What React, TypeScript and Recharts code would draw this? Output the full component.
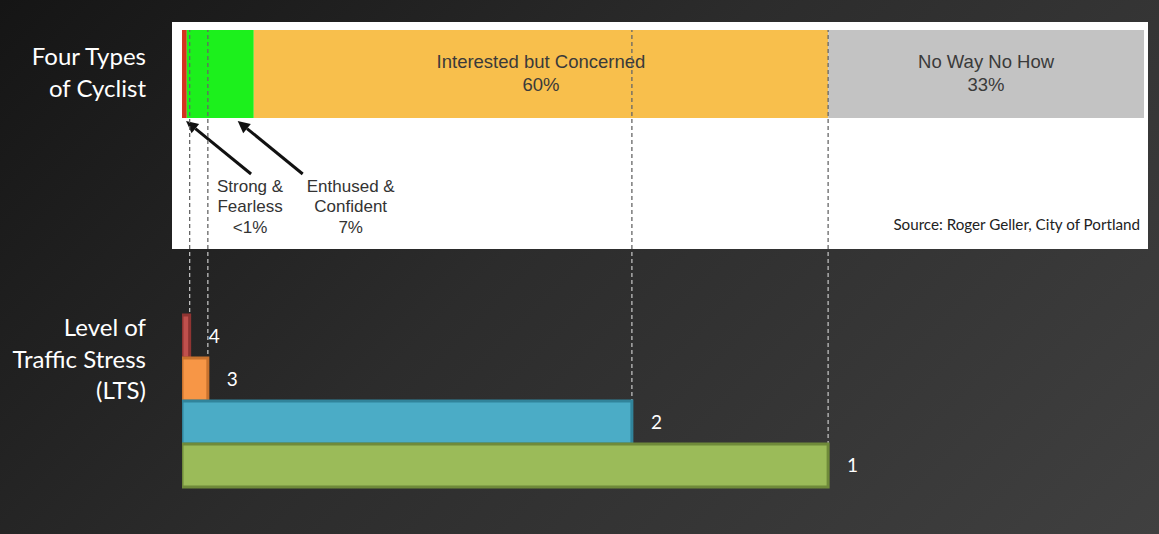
import React from 'react';
import { BarChart, Bar, XAxis, YAxis, Cell, LabelList, ReferenceLine } from 'recharts';

// Four types of cyclist (share of population, %)
const cyclistKeys = ['strong', 'enthused', 'interested', 'noway'];
const cyclistShares = [0.5, 7, 60, 33];
const cyclistLines = [['Strong &', 'Fearless'], ['Enthused &', 'Confident'], ['Interested but Concerned'], ['No Way No How']];
const cyclistPctLabels = ['<1%', '7%', '60%', '33%'];
const cyclistColors = ['#d4321e', '#1cf01c', '#f8bf4c', '#c3c3c3'];

// Level of traffic stress: how far along the cyclist scale each level reaches
const ltsLevels = ['4', '3', '2', '1'];
const ltsReach = [0.8, 2.7, 47, 67.5];
const ltsFill = ['#c0504d', '#f79646', '#4bacc6', '#9bbb59'];
const ltsStroke = ['#8f3432', '#c8722e', '#31849b', '#6f8a3a'];

const total = cyclistShares.reduce((a, b) => a + b, 0);

const cyclistRow: Record<string, any> = { row: 'types' };
cyclistKeys.forEach((k, i) => (cyclistRow[k] = cyclistShares[i]));

const ltsRows = ltsLevels.map((lvl, i) => ({ level: lvl, reach: ltsReach[i] }));

const W = 976;
const LEFT = 172;
const TOP = 22;
const MARGIN = { top: 8, left: 10, right: 4 };
const LOWER_H = 480;
const PANEL_H = 227;

const sans = 'Liberation Sans, Arial, sans-serif';
const calibri = 'Lato, Carlito, Calibri, sans-serif';

function box(p: any) {
  const vb = p.viewBox && p.viewBox.width != null ? p.viewBox : p;
  return { x: +vb.x, y: +vb.y, width: +vb.width, height: +vb.height };
}

// text written inside a segment
const insideLabel = (i: number) => (p: any) => {
  const { x, y, width, height } = box(p);
  const cx = x + width / 2;
  const cy = y + height / 2;
  return (
    <text textAnchor="middle" fontFamily={sans} fontSize={18.5} fill="#3a3a3a">
      <tspan x={cx} y={cy - 12} dy="0.35em">{cyclistLines[i][0]}</tspan>
      <tspan x={cx} y={cy + 11} dy="0.35em">{cyclistPctLabels[i]}</tspan>
    </text>
  );
};

// arrow + text below a thin segment
const calloutLabel = (i: number, tipFrac: number, textDx: number) => (p: any) => {
  const { x, y, width, height } = box(p);
  const tipX = x + width * tipFrac;
  const tipY = y + height + 3;
  const tailX = tipX + 65;
  const tailY = tipY + 53;
  const ang = Math.atan2(tipY - tailY, tipX - tailX);
  const hl = 12;
  const hw = 6;
  const bx = tipX - hl * Math.cos(ang);
  const by = tipY - hl * Math.sin(ang);
  const nx = -Math.sin(ang) * hw;
  const ny = Math.cos(ang) * hw;
  const tx = tailX + textDx;
  const lines = [...cyclistLines[i], cyclistPctLabels[i]];
  return (
    <g>
      <line x1={tailX} y1={tailY} x2={bx} y2={by} stroke="#111" strokeWidth={3} />
      <polygon points={`${tipX},${tipY} ${bx + nx},${by + ny} ${bx - nx},${by - ny}`} fill="#111" />
      <text textAnchor="middle" fontFamily={sans} fontSize={17} fill="#333">
        {lines.map((t, k) => (
          <tspan key={k} x={tx} y={tailY + 12 + k * 20.5} dy="0.35em">{t}</tspan>
        ))}
      </text>
    </g>
  );
};

const labelFns = [calloutLabel(0, 0.85, -1), calloutLabel(1, 0.76, 48), insideLabel(2), insideLabel(3)];

export default function App() {
  return (
    <div
      style={{
        position: 'relative',
        width: 1159,
        height: 534,
        overflow: 'hidden',
        background: 'linear-gradient(135deg, #151515 0%, #2c2c2c 45%, #404040 100%)',
      }}
    >
      <style>{'body{margin:0}'}</style>

      {/* left titles */}
      <div
        style={{
          position: 'absolute', right: 1159 - 146, top: 40, textAlign: 'right',
          color: '#fff', fontFamily: calibri, fontSize: 24, lineHeight: '32px', whiteSpace: 'nowrap',
        }}
      >
        Four Types<br />of Cyclist
      </div>
      <div
        style={{
          position: 'absolute', right: 1159 - 146, top: 311, textAlign: 'right',
          color: '#fff', fontFamily: calibri, fontSize: 24, lineHeight: '31.5px', whiteSpace: 'nowrap',
        }}
      >
        Level of<br />Traffic Stress<br />(LTS)
      </div>

      {/* white panel with the four types bar */}
      <div style={{ position: 'absolute', left: LEFT, top: TOP, width: W, height: PANEL_H, background: '#fff' }}>
        <BarChart
          width={W}
          height={PANEL_H}
          data={[cyclistRow]}
          layout="vertical"
          margin={{ ...MARGIN, bottom: PANEL_H - MARGIN.top - 88 }}
          barCategoryGap={0}
        >
          <XAxis type="number" domain={[0, total]} allowDataOverflow hide />
          <YAxis type="category" dataKey="row" hide />
          {cyclistKeys.map((k, i) => (
            <Bar key={k} dataKey={k} stackId="a" fill={cyclistColors[i]} isAnimationActive={false}>
              <LabelList dataKey={k} content={labelFns[i]} />
            </Bar>
          ))}
        </BarChart>
        <div
          style={{
            position: 'absolute', right: 8, top: 193, fontFamily: calibri, fontSize: 15.2,
            color: '#222', whiteSpace: 'nowrap',
          }}
        >
          Source: Roger Geller, City of Portland
        </div>
      </div>

      {/* dashed guide lines, behind the LTS bars */}
      <div style={{ position: 'absolute', left: LEFT, top: TOP }}>
        <BarChart width={W} height={LOWER_H} data={ltsRows} layout="vertical" margin={{ ...MARGIN, bottom: 15 }}>
          <defs>
            <linearGradient id="guide" gradientUnits="userSpaceOnUse" x1={0} y1={0} x2={0} y2={LOWER_H}>
              <stop offset={PANEL_H / LOWER_H} stopColor="#666" />
              <stop offset={PANEL_H / LOWER_H} stopColor="#bdbdbd" />
            </linearGradient>
          </defs>
          <XAxis type="number" domain={[0, total]} allowDataOverflow hide />
          <YAxis type="category" dataKey="level" hide />
          {ltsReach.map((v, i) => (
            <ReferenceLine key={i} x={v} stroke="url(#guide)" strokeWidth={1.3} strokeDasharray="4 3" />
          ))}
        </BarChart>
      </div>

      {/* LTS bars */}
      <div style={{ position: 'absolute', left: LEFT, top: TOP }}>
        <BarChart
          width={W}
          height={LOWER_H}
          data={ltsRows}
          layout="vertical"
          margin={{ ...MARGIN, bottom: 15 }}
          barCategoryGap={0}
        >
          <XAxis type="number" domain={[0, total]} allowDataOverflow hide />
          <YAxis type="category" dataKey="level" hide padding={{ top: 285, bottom: 0 }} />
          <Bar dataKey="reach" strokeWidth={3} isAnimationActive={false}>
            {ltsRows.map((r, i) => (
              <Cell key={r.level} fill={ltsFill[i]} stroke={ltsStroke[i]} />
            ))}
            <LabelList dataKey="level" position="right" offset={19} fill="#fff" fontSize={19} fontFamily={calibri} />
          </Bar>
        </BarChart>
      </div>
    </div>
  );
}
